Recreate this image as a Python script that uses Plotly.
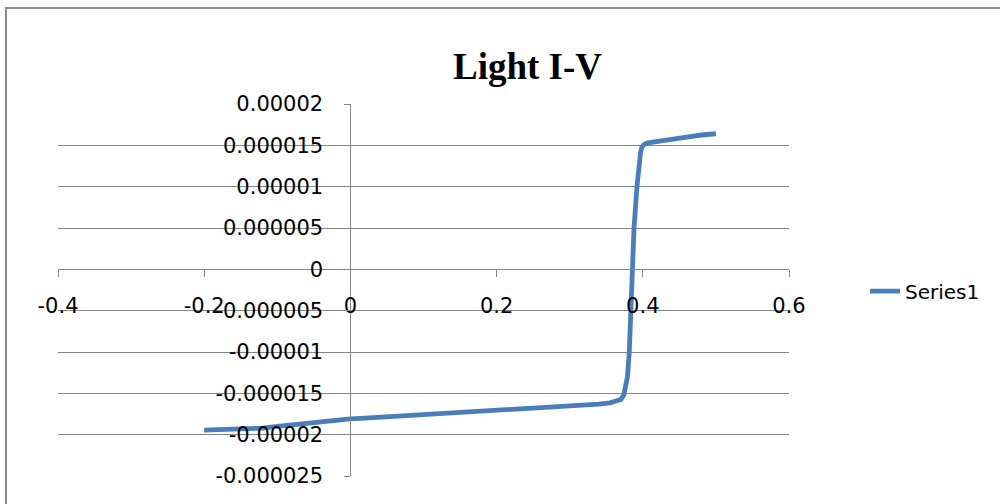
import plotly.graph_objects as go

# Data (voltage in V, current in A)
voltage = [-0.2, -0.18, -0.16, -0.14, -0.12, -0.10, -0.08, -0.06, -0.04, -0.02,
           0.0, 0.02, 0.04, 0.06, 0.08, 0.10, 0.12, 0.14, 0.16, 0.18,
           0.20, 0.22, 0.24, 0.26, 0.28, 0.30, 0.32, 0.34, 0.355, 0.365,
           0.370, 0.374, 0.377, 0.379, 0.3815, 0.3834, 0.386, 0.388, 0.392, 0.395,
           0.397, 0.399, 0.402, 0.407, 0.42, 0.44, 0.46, 0.48, 0.50]
current = [-1.945e-5, -1.94e-5, -1.94e-5, -1.935e-5, -1.92e-5, -1.90e-5, -1.88e-5, -1.86e-5, -1.84e-5, -1.825e-5,
           -1.81e-5, -1.80e-5, -1.79e-5, -1.78e-5, -1.77e-5, -1.755e-5, -1.745e-5, -1.735e-5, -1.725e-5, -1.715e-5,
           -1.705e-5, -1.695e-5, -1.685e-5, -1.675e-5, -1.665e-5, -1.655e-5, -1.645e-5, -1.63e-5, -1.615e-5, -1.595e-5,
           -1.575e-5, -1.52e-5, -1.42e-5, -1.30e-5, -1.00e-5, -0.50e-5, 0.0, 0.5e-5, 1.0e-5, 1.3e-5,
           1.42e-5, 1.48e-5, 1.51e-5, 1.53e-5, 1.55e-5, 1.575e-5, 1.60e-5, 1.625e-5, 1.64e-5]

series_name = "Series1"
title_text = "Light I-V"

x_tickvals = [-0.4, -0.2, 0, 0.2, 0.4, 0.6]
x_ticktext = ["-0.4", "-0.2", "0", "0.2", "0.4", "0.6"]
y_tickvals = [2e-5, 1.5e-5, 1e-5, 5e-6, 0, -5e-6, -1e-5, -1.5e-5, -2e-5, -2.5e-5]
y_ticktext = ["0.00002", "0.000015", "0.00001", "0.000005", "0", "-0.000005",
              "-0.00001", "-0.000015", "-0.00002", "-0.000025"]

GRID = "#868686"
TICKFONT = dict(family="DejaVu Sans", size=21, color="#000000")

fig = go.Figure()
fig.add_trace(go.Scatter(
    x=voltage, y=current, mode="lines", name=series_name,
    line=dict(color="#4A7EBB", width=4.8),
    showlegend=True,
))

fig.update_layout(
    width=1000, height=504,
    margin=dict(l=58, r=211, t=104, b=28),
    paper_bgcolor="white", plot_bgcolor="white",
    showlegend=True,
    legend=dict(x=1.104, y=0.497, xanchor="left", yanchor="middle",
                font=dict(family="DejaVu Sans", size=20, color="#000000"),
                bgcolor="rgba(0,0,0,0)"),
    xaxis=dict(range=[-0.4, 0.6], tickvals=x_tickvals, ticktext=x_ticktext,
               showgrid=False, zeroline=False,
               showline=True, linecolor=GRID, linewidth=1,
               ticks="outside", ticklen=7, tickcolor=GRID, tickwidth=1,
               ticklabelstandoff=10,
               anchor="free", position=5 / 9, tickfont=TICKFONT),
    yaxis=dict(range=[-2.5e-5, 2e-5], tickvals=y_tickvals, ticktext=y_ticktext,
               showgrid=True, gridcolor=GRID, gridwidth=1, zeroline=False,
               showline=True, linecolor=GRID, linewidth=1,
               ticks="outside", ticklen=6, tickcolor=GRID, tickwidth=1,
               ticklabelstandoff=17,
               anchor="free", position=0.4, tickfont=TICKFONT),
    annotations=[dict(text="<b>" + title_text + "</b>", xref="paper", yref="paper",
                      x=(527 - 58) / 731, y=(476 - 66) / 372,
                      xanchor="center", yanchor="middle", showarrow=False,
                      font=dict(family="Liberation Serif", size=37, color="#000000"))],
    shapes=[dict(type="rect", xref="paper", yref="paper",
                 x0=(6 - 58) / 731, x1=(1010 - 58) / 731,
                 y0=(476 - 520) / 372, y1=(476 - 8) / 372,
                 line=dict(color="#8C8C8C", width=2), fillcolor="rgba(0,0,0,0)",
                 layer="below")],
)

fig.write_html(
    "out.html",
    config={"displayModeBar": False},
    post_script="document.body.style.margin='0';document.body.style.overflow='hidden';",
)
